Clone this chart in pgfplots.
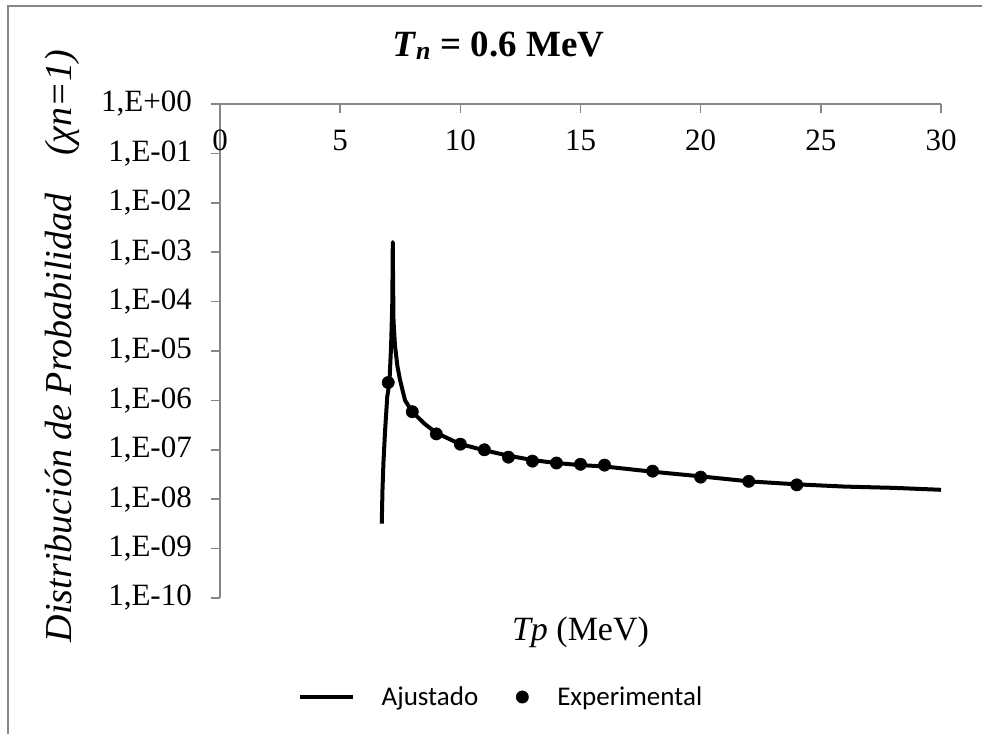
\documentclass[border=0pt]{standalone}
\usepackage{fontspec}
\setmainfont{Liberation Serif}
\newfontfamily\calibri{Carlito}
\usepackage{pgfplots}
\pgfplotsset{compat=1.18}
\definecolor{axgray}{RGB}{134,134,134}

\begin{document}
\begin{tikzpicture}
\useasboundingbox (0pt,0pt) rectangle (982pt,734pt);
% chart area frame (left and top edges visible)
\draw[axgray, line width=1.5pt] (8pt,0pt) -- (8pt,728pt) -- (982pt,728pt);
\begin{axis}[
  at={(220pt,136pt)}, anchor=south west,
  scale only axis, width=721pt, height=494pt,
  ymode=log, xmin=0, xmax=30, ymin=1e-10, ymax=1,
  axis x line*=top, axis y line*=left,
  axis line style={axgray, line width=1.5pt},
  xtick={0,5,10,15,20,25,30},
  ytick={1,1e-1,1e-2,1e-3,1e-4,1e-5,1e-6,1e-7,1e-8,1e-9,1e-10},
  yticklabels={{1,E+00},{1,E-01},{1,E-02},{1,E-03},{1,E-04},{1,E-05},{1,E-06},{1,E-07},{1,E-08},{1,E-09},{1,E-10}},
  yminorticks=false,
  xtick align=inside, ytick align=outside,
  major tick length=9pt,
  every tick/.append style={axgray, line width=1.5pt},
  /pgf/number format/assume math mode=true,
  tick label style={font=\fontsize{31}{37}\selectfont},
  xticklabel style={anchor=north, inner sep=0pt, yshift=-26pt},
  yticklabel style={anchor=east, inner sep=0pt, xshift=-19pt},
  title={\textit{T}\textsubscript{\textit{n}} = 0.6 MeV},
  title style={font=\bfseries\fontsize{37}{44}\selectfont, at={(axis description cs:0.386,1.085)}, anchor=base},
  ylabel={Distribución de Probabilidad\hspace{1em}(χn=1)},
  ylabel style={font=\itshape\fontsize{38}{44}\selectfont, at={(axis description cs:-0.219,0.51)}, anchor=center},
  xlabel={\textit{Tp} (MeV)},
  xlabel style={font=\fontsize{34}{40}\selectfont, at={(axis description cs:0.5,-0.069)}, anchor=center},
  legend columns=2,
  legend style={at={(axis description cs:0.3883,-0.2004)}, anchor=center, draw=none, fill=none,
    inner sep=0pt, column sep=0pt, font=\calibri\fontsize{27}{32}\selectfont, nodes={inner sep=0pt}},
  legend cell align=left,
]
% fitted curve
\addplot[black, line width=4pt, line join=round,
  legend image code/.code={\path[draw=none] (0pt,0pt) -- (82pt,0pt);
    \draw[black, line width=4pt] (0pt,0pt) -- (53pt,0pt);}]
  coordinates {
  (6.73,3.2e-9) (6.76,1.5e-8) (6.80,5.4e-8) (6.87,2.5e-7) (6.96,1.2e-6) (7.05,2.3e-6)
  (7.12,1.3e-5) (7.17,1.0e-4) (7.19,1.6e-3) (7.20,3.2e-4) (7.22,4.0e-5) (7.28,1.3e-5)
  (7.38,5.0e-6) (7.49,2.6e-6) (7.70,1.0e-6) (8.0,5.9e-7) (8.5,3.4e-7) (9,2.2e-7)
  (10,1.3e-7) (11,9.8e-8) (12,7.6e-8) (13,6.2e-8) (14,5.4e-8) (15,4.9e-8) (16,4.6e-8)
  (18,3.6e-8) (20,2.9e-8) (22,2.3e-8) (24,2.0e-8) (26,1.8e-8) (28,1.7e-8) (30,1.55e-8)
  };
\addlegendentry{Ajustado}
% experimental points
\addplot[only marks, mark=*, mark size=6.2pt, black,
  legend image code/.code={\path[draw=none] (-44pt,0pt) -- (35pt,0pt);
    \fill[black] (0pt,0pt) circle (6.2pt);}]
  coordinates {
  (7,2.3e-6) (8,5.9e-7) (9,2.1e-7) (10,1.3e-7) (11,1.0e-7) (12,7.1e-8) (13,5.9e-8)
  (14,5.4e-8) (15,5.1e-8) (16,4.9e-8) (18,3.7e-8) (20,2.8e-8) (22,2.3e-8) (24,1.95e-8)
  };
\addlegendentry{Experimental}
\end{axis}
\end{tikzpicture}
\end{document}
